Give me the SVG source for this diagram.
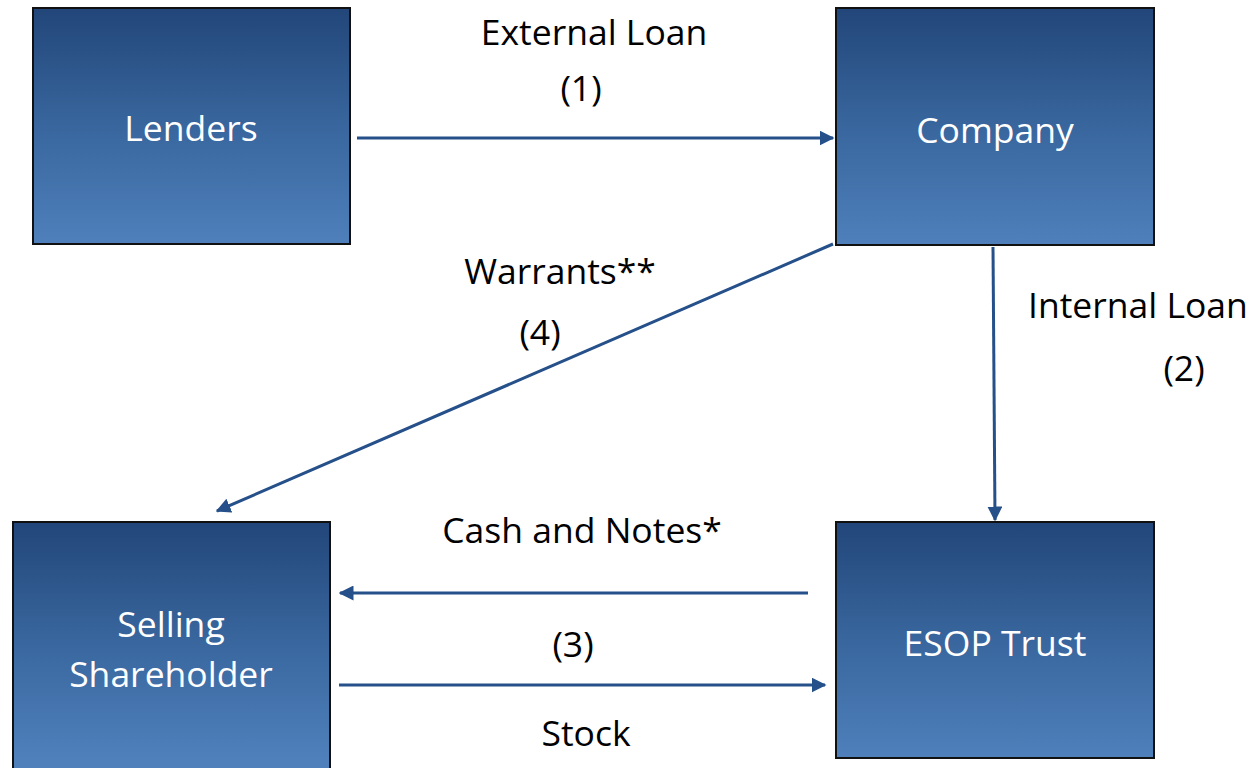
<svg xmlns="http://www.w3.org/2000/svg" width="1257" height="768" viewBox="0 0 1257 768">
<defs>
<linearGradient id="g" x1="0" y1="0" x2="0" y2="1">
<stop offset="0" stop-color="#224679"/>
<stop offset="0.45" stop-color="#36639a"/>
<stop offset="1" stop-color="#4f80bb"/>
</linearGradient>
<linearGradient id="g2" gradientUnits="userSpaceOnUse" x1="0" y1="522" x2="0" y2="758">
<stop offset="0" stop-color="#224679"/>
<stop offset="0.45" stop-color="#36639a"/>
<stop offset="1" stop-color="#4f80bb"/>
</linearGradient>
<marker id="ah" viewBox="0 0 10 10" refX="9" refY="5" markerWidth="5" markerHeight="5" orient="auto" markerUnits="strokeWidth">
<path d="M0,0 L10,5 L0,10 z" fill="#25508a"/>
</marker>
<style>
.box{stroke:#111;stroke-width:2}
.nt{font-family:"Open Sans","Liberation Sans",sans-serif;font-size:35.5px;fill:#fff;text-anchor:middle}
.lt{font-family:"Open Sans","Liberation Sans",sans-serif;font-size:35.5px;fill:#000;text-anchor:middle}
.c{stroke:#25508a;stroke-width:3;fill:none;marker-end:url(#ah)}
</style>
</defs>
<rect width="1257" height="768" fill="#fff"/>
<g id="lenders"><rect class="box" x="33" y="8" width="317" height="236" fill="url(#g)"/><text class="nt" x="191" y="141">Lenders</text></g>
<g id="company"><rect class="box" x="836" y="8" width="318" height="237" fill="url(#g)"/><text class="nt" x="995" y="143">Company</text></g>
<g id="esop"><rect class="box" x="836" y="522" width="318" height="236" fill="url(#g2)"/><text class="nt" x="995" y="656">ESOP Trust</text></g>
<g id="selling"><rect class="box" x="13" y="522" width="317" height="260" fill="url(#g2)"/><text class="nt" x="171" y="637">Selling</text><text class="nt" x="171" y="687">Shareholder</text></g>
<g id="connectors">
<line class="c" x1="357" y1="138" x2="833" y2="138"/>
<line class="c" x1="993" y1="247" x2="995" y2="520"/>
<line class="c" x1="833" y1="244" x2="217" y2="511"/>
<line class="c" x1="808" y1="593" x2="340" y2="593"/>
<line class="c" x1="339" y1="685" x2="825" y2="685"/>
</g>
<g id="labels">
<text class="lt" x="594" y="45">External Loan</text>
<text class="lt" x="581" y="101">(1)</text>
<text class="lt" x="560" y="284">Warrants**</text>
<text class="lt" x="540" y="345">(4)</text>
<text class="lt" x="1028" y="318" style="text-anchor:start">Internal Loan</text>
<text class="lt" x="1184" y="381">(2)</text>
<text class="lt" x="582" y="543">Cash and Notes*</text>
<text class="lt" x="573" y="657">(3)</text>
<text class="lt" x="586" y="746">Stock</text>
</g>
</svg>
